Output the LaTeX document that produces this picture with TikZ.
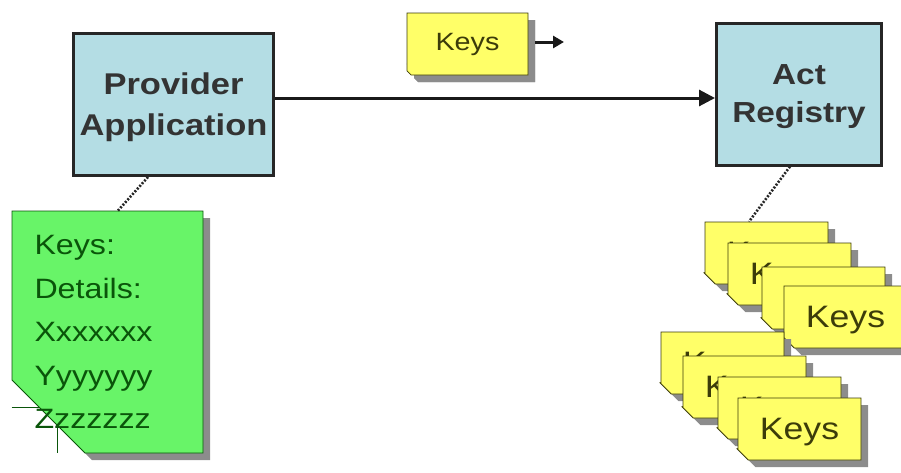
\documentclass[tikz,border=0pt]{standalone}
\usepackage{fontspec}
\newfontfamily\notefont[FakeStretch=1.15]{Liberation Sans}
\usepackage{tikz}
\usetikzlibrary{shapes.misc,shadows,arrows.meta}

\definecolor{appblue}{RGB}{180,221,228}
\definecolor{notegreen}{RGB}{104,244,104}
\definecolor{noteyellow}{RGB}{255,255,104}
\definecolor{darkgreen}{RGB}{10,85,10}
\definecolor{darkolive}{RGB}{60,60,10}

\begin{document}
\begin{tikzpicture}[x=1pt,y=-1pt,
appbox/.style={rectangle,draw=black!85,line width=3pt,fill=appblue,
  minimum width=200pt,minimum height=142pt,align=center,text=black!80,
  text depth=0pt,font=\notefont\bfseries\fontsize{30}{41}\selectfont},
note/.style n args={3}{chamfered rectangle,chamfered rectangle corners=south west,
  chamfered rectangle xsep=#1,chamfered rectangle ysep=#2,
  inner xsep=-#1,inner ysep=-#2,draw=#3,line width=0.8pt,
  drop shadow={shadow xshift=7pt,shadow yshift=-7pt,fill=black!45,opacity=1},
  append after command={\pgfextra{\draw[#3,line width=0.8pt]
    ([yshift=#2]\tikzlastnode.west |- \tikzlastnode.south) -- ++(#1,0pt) -- ++(0pt,-#2);}}},
keynote/.style={note={28pt}{12pt}{darkolive},fill=noteyellow,text=darkolive,
  minimum width=123pt,minimum height=62pt,text depth=0pt,
  font=\notefont\fontsize{31}{36}\selectfont},
flow/.style={-{Triangle[length=16pt,width=16pt]},line width=3pt,black!90},
link/.style={dash pattern=on 2pt off 1.6pt,line width=2.6pt,black!85}]
\useasboundingbox (0,0) rectangle (901,472);

\node (prov) [appbox] at (173.5,104.5) {Provider\\Application};
\node (reg) [appbox,minimum width=165pt,font=\notefont\bfseries\fontsize{29}{38}\selectfont]
  at (799,94) {Act\\Registry};

% key handed to the registry
\node (sent) [keynote,minimum width=121pt,text depth=,note={28pt}{11pt}{darkolive},
  font=\notefont\fontsize{25}{30}\selectfont] at (467.5,44) {Keys};
\coordinate (sentout) at (564,42);
\draw[flow,-{Triangle[length=11pt,width=12pt]}]
  ([xshift=7pt,yshift=2pt]sent.east) -- (sentout);
\draw[flow] ([yshift=6.5pt]prov.east) -- ([yshift=-4pt]reg.west);

% provider side record
\node (detail) [note={46pt}{46pt}{darkgreen},fill=notegreen,text=darkgreen,
  minimum width=191pt,minimum height=242pt,text width=146pt,align=left,
  font=\notefont\fontsize{28}{43.5}\selectfont]
  at (107.5,332) {Keys:\\Details:\\Xxxxxxx\\Yyyyyyy\\Zzzzzzz};
\draw[link] ([xshift=-25.5pt]prov.south) -- ([xshift=10.5pt]detail.north);

% registry side keys
\foreach \name/\x/\y in {ka/766.5/253,kb/789.5/274,kc/823.5/298,kd/845.5/317,
                         ke/722.5/363,kf/744.5/387,kg/779.5/408,kh/799.5/429}
  \node (\name) [keynote] at (\x,\y) {Keys};
\draw[link] ([xshift=-9pt]reg.south) -- ([xshift=-17.5pt]ka.north);
\end{tikzpicture}
\end{document}
